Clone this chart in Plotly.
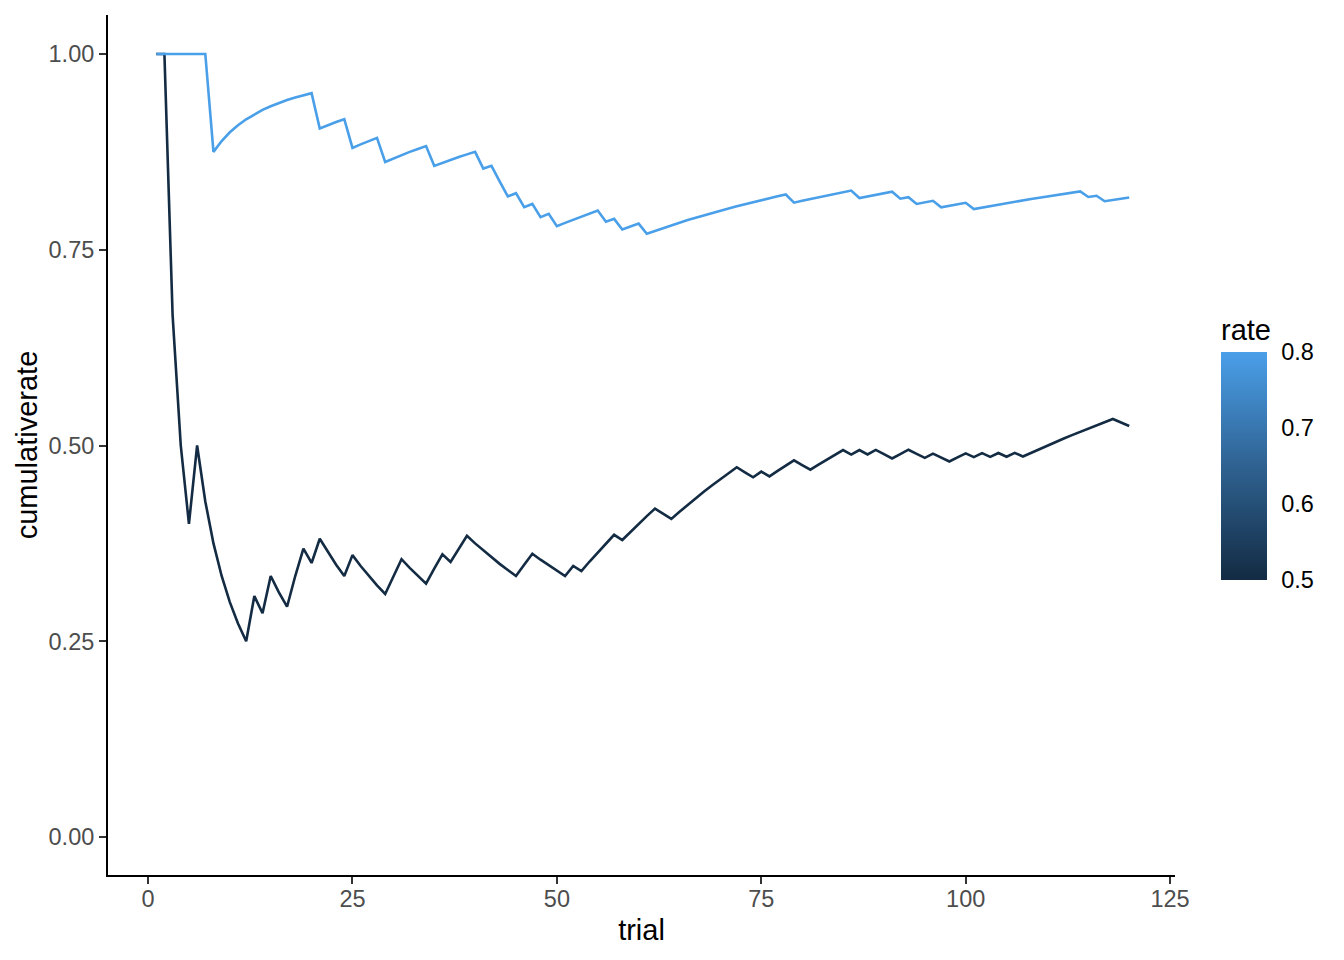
import numpy as np
import plotly.graph_objects as go

# trial outcomes (1 = success)
trial = list(range(1, 121))

hits_80 = ([1]*7 + [0] + [1]*12 + [0] + [1]*3 + [0] + [1]*3 + [0] + [1]*5 + [0] + [1]*5 + [0]
           + [1] + [0, 0] + [1, 0, 1, 0, 1, 0] + [1]*5 + [0, 1, 0] + [1, 1] + [0] + [1]*17 + [0]
           + [1]*7 + [0] + [1]*4 + [0, 1, 0] + [1, 1] + [0] + [1]*3 + [0] + [1]*13
           + [0, 1, 0] + [1]*3)

hits_50 = ([1, 1] + [0]*3 + [1] + [0]*6 + [1, 0, 1] + [0, 0] + [1, 1] + [0, 1] + [0]*3 + [1]
           + [0]*4 + [1, 1] + [0]*3 + [1, 1] + [0] + [1, 1] + [0]*6 + [1, 1] + [0]*4 + [1, 0]
           + [1]*4 + [0] + [1]*4 + [0, 0] + [1]*8 + [0, 0] + [1, 0] + [1]*3 + [0, 0] + [1]*4
           + [0, 1, 0, 1] + [0, 0] + [1, 1] + [0, 0] + [1] + [0, 0] + [1, 1] + [0, 1, 0, 1, 0, 1, 0]
           + [1]*11 + [0, 0])

rates = [0.5, 0.8]
rate_ticks = [0.5, 0.6, 0.7, 0.8]
x_ticks = [0, 25, 50, 75, 100, 125]
y_ticks = [0, 0.25, 0.5, 0.75, 1.0]
y_ticktext = ["0.00", "0.25", "0.50", "0.75", "1.00"]

cum_50 = np.cumsum(hits_50) / np.array(trial)
cum_80 = np.cumsum(hits_80) / np.array(trial)

dark = "#132B43"
light = "#4A9FE9"
scale = [[0, dark], [0.5, "#2F6291"], [1, light]]

fig = go.Figure()
fig.add_trace(go.Scatter(x=trial, y=cum_50, mode="lines",
                         line=dict(color=dark, width=2.6), showlegend=False))
fig.add_trace(go.Scatter(x=trial, y=cum_80, mode="lines",
                         line=dict(color=light, width=2.6), showlegend=False))

# dummy trace, only for the colour bar
fig.add_trace(go.Scatter(x=[None, None], y=[None, None], mode="markers",
                         marker=dict(color=rates, coloraxis="coloraxis"),
                         showlegend=False, hoverinfo="skip"))

font = "Liberation Sans, Arial, Helvetica, sans-serif"

# page has an 8px body margin, so the figure is a bit smaller
fig.update_layout(
    width=1336, height=952,
    margin=dict(l=100, r=169, t=7, b=85),
    paper_bgcolor="white", plot_bgcolor="white",
    font=dict(family=font, color="black"),
    coloraxis=dict(
        cmin=0.5, cmax=0.8, colorscale=scale,
        colorbar=dict(
            title=dict(text="rate", side="top", font=dict(size=29, color="black")),
            tickvals=rate_ticks, ticktext=["0.5", "0.6", "0.7", "0.8"],
            tickfont=dict(size=23.5, color="black"),
            ticks="outside", tickcolor="rgba(0,0,0,0)", ticklen=10, tickwidth=1,
            thickness=46, len=265, lenmode="pixels",
            x=1.0431, xanchor="left", xpad=0,
            y=0.343, yanchor="bottom", ypad=0,
            outlinewidth=0,
        ),
    ),
    xaxis=dict(
        range=[-4.9, 125.6], tickvals=x_ticks,
        showgrid=False, zeroline=False,
        showline=True, linecolor="black", linewidth=2,
        ticks="outside", ticklen=7, tickwidth=2, tickcolor="#333333",
        tickfont=dict(size=23.5, color="#4D4D4D"),
        ticklabelstandoff=-5,
        title=dict(text="trial", font=dict(size=29, color="black"), standoff=8),
    ),
    yaxis=dict(
        range=[-0.0485, 1.0498], tickvals=y_ticks, ticktext=y_ticktext,
        showgrid=False, zeroline=False,
        showline=True, linecolor="black", linewidth=2,
        ticks="outside", ticklen=7, tickwidth=2, tickcolor="#333333",
        tickfont=dict(size=23.5, color="#4D4D4D"),
        title=dict(text="cumulativerate", font=dict(size=29, color="black"), standoff=2),
    ),
)

fig.write_html("out.html")
